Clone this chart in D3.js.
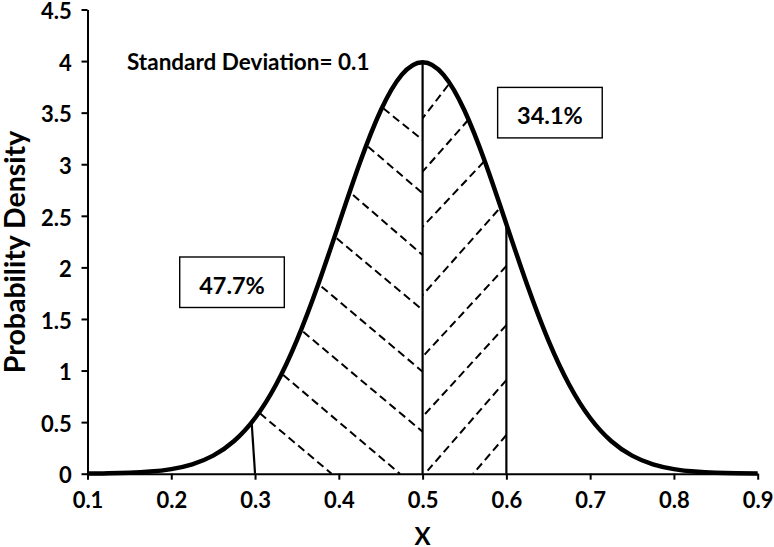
<!DOCTYPE html>
<html>
<head>
<meta charset="utf-8">
<script src="https://cdn.jsdelivr.net/npm/d3@7"></script>
<style>
  html, body { margin: 0; padding: 0; background: #fff; }
  svg { display: block; }
  text { font-family: Lato, "Open Sans", sans-serif; fill: #000; font-weight: bold; }
</style>
</head>
<body>
<svg id="chart" width="774" height="547"></svg>
<script>
// ---- data ----
const xValues = [0.1, 0.125, 0.15, 0.175, 0.2, 0.225, 0.25, 0.275, 0.3, 0.325, 0.35, 0.375, 0.4, 0.425, 0.45, 0.475,
                 0.5, 0.525, 0.55, 0.575, 0.6, 0.625, 0.65, 0.675, 0.7, 0.725, 0.75, 0.775, 0.8, 0.825, 0.85, 0.875, 0.9];
const density = [0.0013, 0.0035, 0.0087, 0.0203, 0.0443, 0.0909, 0.1753, 0.3174, 0.5399, 0.8628, 1.2952, 1.8265, 2.4197, 3.0114, 3.5207, 3.8667,
                 3.9894, 3.8667, 3.5207, 3.0114, 2.4197, 1.8265, 1.2952, 0.8628, 0.5399, 0.3174, 0.1753, 0.0909, 0.0443, 0.0203, 0.0087, 0.0035, 0.0013];
const xTicks = [0.1, 0.2, 0.3, 0.4, 0.5, 0.6, 0.7, 0.8, 0.9];
const yTicks = [0, 0.5, 1, 1.5, 2, 2.5, 3, 3.5, 4, 4.5];
const xTickLabels = ["0.1", "0.2", "0.3", "0.4", "0.5", "0.6", "0.7", "0.8", "0.9"];
const yTickLabels = ["0", "0.5", "1", "1.5", "2", "2.5", "3", "3.5", "4", "4.5"];
// boundary lines: [x at bottom, x at top, top density]
const boundaries = [[0.3, 0.296, 0.49], [0.5, 0.5, 3.99], [0.6, 0.6, 2.44]];
// dashed hatch segments [x1, y1, x2, y2]
const leftHatch = [
  [0.453, 3.542, 0.5, 3.235],
  [0.435, 3.170, 0.5, 2.718],
  [0.417, 2.702, 0.5, 2.120],
  [0.3974, 2.282, 0.5, 1.587],
  [0.3795, 1.813, 0.5, 0.989],
  [0.3575, 1.376, 0.5, 0.407],
  [0.3337, 0.957, 0.4729, 0],
  [0.3058, 0.585, 0.3914, 0]
];
const rightHatch = [
  [0.5306, 3.768, 0.5, 3.445],
  [0.5544, 3.429, 0.5, 2.928],
  [0.5731, 3.024, 0.5, 2.394],
  [0.5902, 2.556, 0.5, 1.732],
  [0.6, 2.013, 0.5, 1.134],
  [0.6, 1.441, 0.5, 0.553],
  [0.6, 0.908, 0.506, 0.03],
  [0.6, 0.375, 0.5604, 0]
];
const areaLabels = ["47.7%", "34.1%"];
const noteText = "Standard Deviation= 0.1";
const xTitle = "X";
const yTitle = "Probability Density";

// ---- layout ----
const svg = d3.select("#chart");
const margin = {left: 87.5, right: 16.3, top: 9.5, bottom: 73.3};
const W = 774, H = 547;
const x = d3.scaleLinear().domain([0.1, 0.9]).range([margin.left, W - margin.right]);
const y = d3.scaleLinear().domain([0, 4.5]).range([H - margin.bottom, margin.top]);

// hatch
function drawHatch(segs) {
  svg.append("g").selectAll("line").data(segs).join("line")
    .attr("x1", d => x(d[0])).attr("y1", d => y(d[1]))
    .attr("x2", d => x(d[2])).attr("y2", d => y(d[3]))
    .attr("stroke", "#000").attr("stroke-width", 2)
    .attr("stroke-dasharray", "8,4.5");
}
drawHatch(leftHatch);
drawHatch(rightHatch);

// boundaries
svg.append("g").selectAll("line").data(boundaries).join("line")
  .attr("x1", d => x(d[0])).attr("y1", y(0))
  .attr("x2", d => x(d[1])).attr("y2", d => y(d[2]))
  .attr("stroke", "#000").attr("stroke-width", 2.2);

// axes
const xAxis = svg.append("g").attr("transform", `translate(0,${y(0)})`)
  .call(d3.axisBottom(x).tickValues(xTicks).tickFormat((d, i) => xTickLabels[i])
    .tickSize(6).tickSizeOuter(0).tickPadding(13));
const yAxis = svg.append("g").attr("transform", `translate(${x(0.1)},0)`)
  .call(d3.axisLeft(y).tickValues(yTicks).tickFormat((d, i) => yTickLabels[i])
    .tickSize(6).tickSizeOuter(0).tickPadding(9.8));
[xAxis, yAxis].forEach(g => {
  g.select(".domain").attr("stroke-width", 2);
  g.selectAll(".tick line").attr("stroke-width", 2);
  g.selectAll(".tick text").style("font-size", "22px").attr("font-family", null);
});
yAxis.selectAll(".tick text").attr("dy", "0.42em");

// curve
const line = d3.line().x((d, i) => x(xValues[i])).y(d => y(d)).curve(d3.curveNatural);
svg.append("path").datum(density).attr("d", line)
  .attr("fill", "none").attr("stroke", "#000").attr("stroke-width", 4.5)
  .attr("stroke-linejoin", "round");

// annotation boxes
const boxes = [
  {label: areaLabels[0], cx: 0.2725, cy: 1.856},
  {label: areaLabels[1], cx: 0.652, cy: 3.50}
];
const bw = 104.6, bh = 50.5;
boxes.forEach(b => {
  svg.append("rect")
    .attr("x", x(b.cx) - bw / 2).attr("y", y(b.cy) - bh / 2)
    .attr("width", bw).attr("height", bh)
    .attr("fill", "#fff").attr("stroke", "#000").attr("stroke-width", 1.4);
  svg.append("text").attr("x", x(b.cx)).attr("y", y(b.cy) + 11.5)
    .attr("text-anchor", "middle").style("font-size", "23.5px").text(b.label);
});

// note
svg.append("text").attr("x", 127).attr("y", 70).style("font-size", "22.5px").text(noteText);

// titles
svg.append("text").attr("x", x(0.5)).attr("y", 545)
  .attr("text-anchor", "middle").style("font-size", "24px").text(xTitle);
svg.append("text").attr("transform", `translate(25,252) rotate(-90)`)
  .attr("text-anchor", "middle").style("font-size", "28.5px").text(yTitle);
</script>
</body>
</html>
